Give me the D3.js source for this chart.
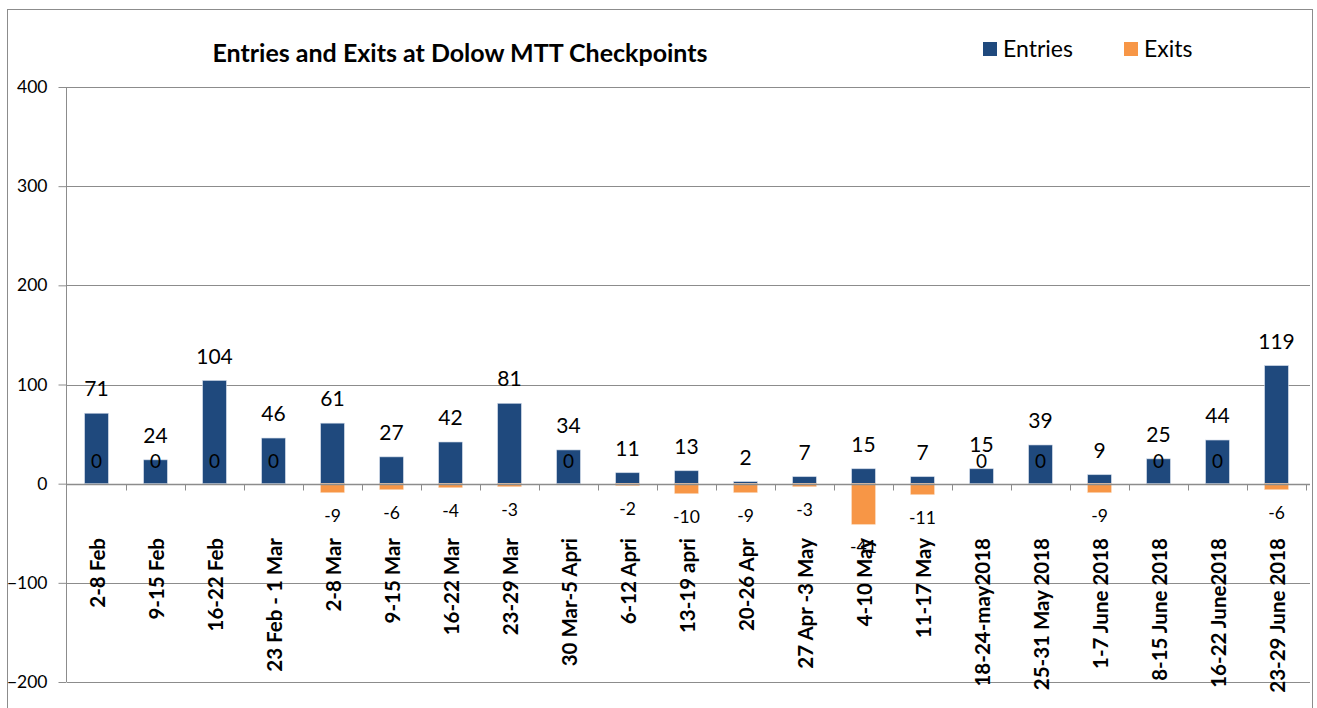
<!DOCTYPE html>
<html><head><meta charset="utf-8">
<script src="https://cdn.jsdelivr.net/npm/d3@7"></script>
<style>
html,body{margin:0;padding:0;background:#fff;}
svg{display:block;font-family:Lato,"Open Sans",sans-serif;}
</style></head>
<body>
<svg id="chart" width="1317" height="708"></svg>
<script>
const categories = ["2-8 Feb","9-15 Feb","16-22 Feb","23 Feb - 1 Mar","2-8 Mar","9-15 Mar","16-22 Mar","23-29 Mar","30 Mar-5 Apri","6-12 Apri","13-19 apri","20-26 Apr","27 Apr -3 May","4-10 May","11-17 May","18-24-may2018","25-31 May 2018","1-7 June 2018","8-15 June 2018","16-22 June2018","23-29 June 2018"];
const entries = [71,24,104,46,61,27,42,81,34,11,13,2,7,15,7,15,39,9,25,44,119];
const exits = [0,0,0,0,-9,-6,-4,-3,0,-2,-10,-9,-3,-41,-11,0,0,-9,0,0,-6];
const yTicks = [-200,-100,0,100,200,300,400];
const seriesNames = ["Entries","Exits"];
const colors = ["#1F497D","#F79646"];

const svg = d3.select("#chart");
// outer frame
svg.append("rect").attr("x",7.5).attr("y",9.5).attr("width",1305).attr("height",710)
  .attr("fill","none").attr("stroke","#8c8c8c").attr("stroke-width",1);

const x = d3.scaleBand().domain(categories).range([67,1306]);
const y = d3.scaleLinear().domain([-200,400]).range([682,87]);

// gridlines
svg.append("g").selectAll("line").data(yTicks.filter(d=>d!==0)).join("line")
  .attr("x1",67).attr("x2",1310).attr("y1",d=>Math.round(y(d))+0.5).attr("y2",d=>Math.round(y(d))+0.5)
  .attr("stroke","#8c8c8c").attr("stroke-width",1);

// y axis
const yAxis = svg.append("g").attr("transform","translate(66.5,0)")
  .call(d3.axisLeft(y).tickValues(yTicks).tickSize(8).tickPadding(11).tickFormat(d3.format("d")));
yAxis.select(".domain").attr("stroke","#8c8c8c").attr("d","M0,"+y(400)+"V"+y(-200));
yAxis.selectAll(".tick line").attr("stroke","#8c8c8c");
yAxis.selectAll(".tick text").attr("font-size",17.5).attr("fill","#000").attr("font-family","Lato");

const bw = x.bandwidth()*0.4;
const cx = d => x(d)+x.bandwidth()/2;

// entries bars
svg.append("g").selectAll("rect").data(categories).join("rect")
  .attr("x",(d)=>cx(d)-bw/2).attr("width",bw)
  .attr("y",(d,i)=>y(entries[i])).attr("height",(d,i)=>y(0)-y(entries[i]))
  .attr("fill",colors[0]).attr("stroke","#c7d3e3").attr("stroke-width",0.6);
// exits bars
svg.append("g").selectAll("rect").data(categories).join("rect")
  .attr("x",(d)=>cx(d)-bw/2).attr("width",bw)
  .attr("y",y(0)).attr("height",(d,i)=>y(exits[i])-y(0))
  .attr("fill",colors[1]).attr("stroke","#fbd2b0").attr("stroke-width",(d,i)=>exits[i]===0?0:0.6);

// x axis line and ticks
const y0 = Math.round(y(0))+0.5;
svg.append("line").attr("x1",66).attr("x2",1310).attr("y1",y0).attr("y2",y0).attr("stroke","#8c8c8c").attr("stroke-width",1.5);
const bounds = categories.map(c=>x(c)+x.bandwidth());
svg.append("g").selectAll("line").data(bounds).join("line")
  .attr("x1",d=>Math.round(d)+0.5).attr("x2",d=>Math.round(d)+0.5).attr("y1",y0).attr("y2",y0+6)
  .attr("stroke","#8c8c8c");

// category labels
svg.append("g").selectAll("text").data(categories).join("text")
  .attr("transform",d=>`translate(${cx(d)+8},538) rotate(-90)`)
  .attr("text-anchor","end").attr("font-weight","bold").attr("font-size",20.5).attr("fill","#000")
  .text(d=>d);

// entry labels
svg.append("g").selectAll("text").data(categories).join("text")
  .attr("x",cx).attr("y",(d,i)=>y(entries[i])-17)
  .attr("text-anchor","middle").attr("font-size",21).attr("fill","#000")
  .text((d,i)=>entries[i]);
// exit labels
svg.append("g").selectAll("text").data(categories).join("text")
  .attr("x",cx).attr("y",(d,i)=>exits[i]<0 ? y(exits[i])+29 : y(0)-16)
  .attr("text-anchor","middle").attr("font-size",(d,i)=>exits[i]<0?17.5:19).attr("fill","#000")
  .text((d,i)=>exits[i]);

// title
svg.append("text").attr("x",460).attr("y",62).attr("text-anchor","middle")
  .attr("font-weight","bold").attr("font-size",25).attr("fill","#000")
  .text("Entries and Exits at Dolow MTT Checkpoints");

// legend
const legX = [983,1124];
seriesNames.forEach((n,i)=>{
  svg.append("rect").attr("x",legX[i]).attr("y",42).attr("width",14).attr("height",14).attr("fill",colors[i]);
  svg.append("text").attr("x",legX[i]+20).attr("y",57).attr("font-size",23).attr("fill","#000").text(n);
});
</script>
</body></html>
